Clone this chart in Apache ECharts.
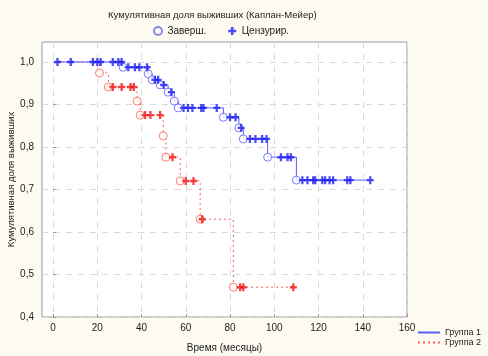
<!DOCTYPE html>
<html>
<head>
<meta charset="utf-8">
<script src="https://cdn.jsdelivr.net/npm/echarts@6/dist/echarts.min.js"></script>
<style>
  html, body { margin: 0; padding: 0; background: #fdfbf1; }
  #chart { width: 488px; height: 356px; }
</style>
</head>
<body>
<div id="chart"></div>
<script>
// Kaplan-Meier curves, values

// Group 1: step curve (time, survival after step)
const g1Time = [1.5, 31.7, 43, 44.8, 48.4, 52, 54.8, 56.6, 77, 84, 86, 97, 110, 143.5];
const g1Surv = [1.0, 0.9875, 0.972, 0.958, 0.946, 0.929, 0.908, 0.892, 0.87, 0.845, 0.819, 0.776, 0.722, 0.722];
// Group 1 censored observations
const g1CensT = [2, 8, 18, 20, 21.5, 27, 29.5, 31,
                 34, 37, 39, 42.5, 46, 47.5, 50, 53.5,
                 59, 61, 63, 67, 68, 74, 80, 82.5, 85,
                 89, 91.5, 94.5, 96.5, 103, 106, 107.5,
                 112.7, 115, 117.6, 118.5, 121.7, 123, 125, 126.6, 133, 134.4, 143.4];
const g1CensS = [1, 1, 1, 1, 1, 1, 1, 1,
                 0.9875, 0.9875, 0.9875, 0.9875, 0.958, 0.958, 0.946, 0.929,
                 0.892, 0.892, 0.892, 0.892, 0.892, 0.892, 0.87, 0.87, 0.845,
                 0.819, 0.819, 0.819, 0.819, 0.776, 0.776, 0.776,
                 0.722, 0.722, 0.722, 0.722, 0.722, 0.722, 0.722, 0.722, 0.722, 0.722, 0.722];

// Group 2
const g2Time = [1.5, 21, 25, 38, 39.4, 49.8, 51, 57.5, 66.5, 81.5, 108.6];
const g2Surv = [1.0, 0.974, 0.941, 0.908, 0.875, 0.826, 0.776, 0.72, 0.63, 0.47, 0.47];
const g2CensT = [27, 31, 35, 36.5, 41.6, 44, 48.4, 54, 60, 63.5, 67.4, 84.6, 86, 108.6];
const g2CensS = [0.941, 0.941, 0.941, 0.941, 0.875, 0.875, 0.875, 0.776, 0.72, 0.72, 0.63, 0.47, 0.47, 0.47];

const xTicks = [0, 20, 40, 60, 80, 100, 120, 140, 160];
const yTicks = [0.4, 0.5, 0.6, 0.7, 0.8, 0.9, 1.0];

const BLUE = '#1f1ff0';
const BLUE_LINE = '#5a5aff';
const RED = '#f01515';
const RED_LINE = '#ff5a5a';
const CENS = 'path://M2.7,0 L5.3,0 L5.3,2.8 L8,2.8 L8,5.2 L5.3,5.2 L5.3,8 L2.7,8 L2.7,5.2 L0,5.2 L0,2.8 L2.7,2.8 Z';
const FONT = 'Liberation Sans';

const zip = (a, b) => a.map((v, i) => [v, b[i]]);
// event points are the drops only (not first/last)
const events = (t, s) => zip(t, s).filter((p, i) => i > 0 && s[i] < s[i - 1]);

const chart = echarts.init(document.getElementById('chart'));
chart.setOption({
    backgroundColor: '#fdfbf1',
    animation: false,
    textStyle: { fontFamily: FONT },
    title: {
        text: 'Кумулятивная доля выживших (Каплан-Мейер)',
        left: 103,
        top: 5,
        textStyle: { fontSize: 9.5, fontWeight: 'normal', color: '#222', fontFamily: FONT }
    },
    legend: [{
        data: ['Заверш.', 'Цензурир.'],
        left: 148,
        top: 21,
        itemGap: 22,
        itemWidth: 9,
        itemHeight: 8,
        textStyle: { fontSize: 10, color: '#222', fontFamily: FONT }
    }, {
        data: [
            { name: 'Группа 1', itemStyle: { opacity: 0 } },
            { name: 'Группа 2', itemStyle: { opacity: 0 } }
        ],
        orient: 'vertical',
        left: 412,
        top: 323,
        itemGap: 1,
        itemWidth: 22,
        itemHeight: 8,
        textStyle: { fontSize: 9, color: '#222', fontFamily: FONT }
    }],
    grid: {
        left: 42, right: 81, top: 42, bottom: 39,
        outerBoundsMode: 'none',
        show: true,
        backgroundColor: '#ffffff',
        borderColor: '#999',
        borderWidth: 1
    },
    xAxis: {
        type: 'value',
        min: -5,
        max: 160,
        name: 'Время (месяцы)',
        nameLocation: 'middle',
        nameGap: 26,
        nameTextStyle: { fontSize: 10, color: '#222' },
        axisLine: { show: false },
        axisTick: { show: true, inside: true, length: 3, customValues: xTicks, lineStyle: { color: '#999' } },
        axisLabel: { customValues: xTicks, fontSize: 10, color: '#222', margin: 6 },
        splitLine: { show: true, lineStyle: { color: '#dadada', type: [6, 6] } }
    },
    yAxis: {
        type: 'value',
        min: 0.4,
        max: 1.047,
        name: 'Кумулятивная доля выживших',
        nameLocation: 'middle',
        nameGap: 26,
        nameMoveOverlap: false,
        nameTextStyle: { fontSize: 9.5, color: '#222' },
        axisLine: { show: false },
        axisTick: { show: true, inside: true, length: 3, customValues: yTicks, lineStyle: { color: '#999' } },
        axisLabel: {
            customValues: yTicks,
            fontSize: 10,
            color: '#222',
            margin: 8,
            formatter: v => v.toFixed(1).replace('.', ',')
        },
        splitLine: { show: true, lineStyle: { color: '#dadada', type: [6, 6] } }
    },
    series: [
        {
            name: 'Группа 2',
            type: 'line',
            step: 'end',
            symbol: 'none',
            data: zip(g2Time, g2Surv),
            lineStyle: { color: RED_LINE, width: 1, type: [2, 3] },
            itemStyle: { color: RED_LINE },
            z: 2
        },
        {
            name: 'Группа 1',
            type: 'line',
            step: 'end',
            symbol: 'none',
            data: zip(g1Time, g1Surv),
            lineStyle: { color: BLUE_LINE, width: 1 },
            itemStyle: { color: BLUE_LINE },
            z: 3
        },
        {
            type: 'scatter',
            symbol: 'circle',
            symbolSize: 8,
            data: events(g2Time, g2Surv),
            itemStyle: { color: '#fffdf5', borderColor: RED_LINE, borderWidth: 1 },
            z: 4
        },
        {
            type: 'scatter',
            symbol: CENS,
            symbolSize: [7, 8],
            data: zip(g2CensT, g2CensS),
            itemStyle: { color: RED },
            z: 5
        },
        {
            type: 'scatter',
            symbol: 'circle',
            symbolSize: 8,
            data: events(g1Time, g1Surv),
            itemStyle: { color: '#ffffff', borderColor: BLUE_LINE, borderWidth: 1 },
            z: 6
        },
        {
            type: 'scatter',
            symbol: CENS,
            symbolSize: [7, 8],
            data: zip(g1CensT, g1CensS),
            itemStyle: { color: BLUE },
            z: 7
        },
        // legend-only entries
        {
            name: 'Заверш.',
            type: 'scatter',
            symbol: 'circle',
            symbolSize: 8,
            data: [],
            itemStyle: { color: '#ffffff', borderColor: '#6a6ae8', borderWidth: 1 }
        },
        {
            name: 'Цензурир.',
            type: 'scatter',
            symbol: CENS,
            data: [],
            itemStyle: { color: BLUE }
        }
    ]
});
</script>
</body>
</html>
